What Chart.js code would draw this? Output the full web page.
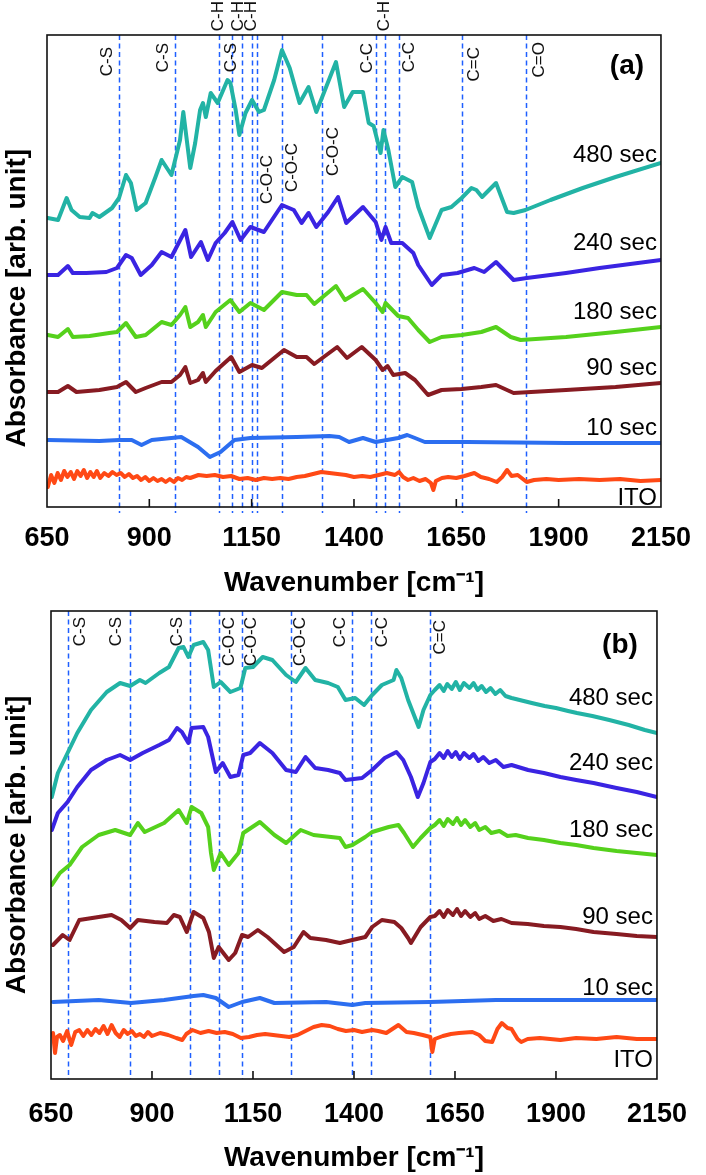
<!DOCTYPE html>
<html lang="en">
<head>
    <meta charset="UTF-8" />
    <title>FT-IR spectra (a) and (b)</title>
    <script src="https://cdn.jsdelivr.net/npm/chart.js"></script>
    <style>
        body { margin: 0; background: #fff; }
        .panel { position: absolute; left: 0; }
    </style>
</head>
<body>
<div class="panel" style="top:0"><canvas id="chartA" width="706" height="600"></canvas></div>
<div class="panel" style="top:598px"><canvas id="chartB" width="706" height="577"></canvas></div>

<script>
    // ---- data: [wavenumber cm-1, absorbance (arb.)] ----
    const seriesNames = ['480 sec', '240 sec', '180 sec', '90 sec', '10 sec', 'ITO'];
    const xTicks = [650, 900, 1150, 1400, 1650, 1900, 2150];

    // panel (a)
    const a480 = [[652,28.9],[677,28.7],[698,30.9],[710,29.7],[730,29.0],[754,28.9],[761,29.4],[778,29.0],[809,29.9],[826,30.9],[843,33.2],[855,32.4],[869,29.7],[891,30.4],[915,33.0],[930,34.7],[954,33.2],[975,36.7],[983,39.5],[1000,33.9],[1012,36.4],[1024,39.7],[1031,40.4],[1038,39.0],[1050,41.4],[1067,40.4],[1091,42.7],[1098,42.4],[1111,39.7],[1120,37.2],[1135,39.4],[1151,40.7],[1168,39.5],[1180,39.7],[1205,42.7],[1224,45.7],[1243,43.9],[1267,40.4],[1289,42.0],[1308,39.5],[1332,42.0],[1356,44.5],[1376,40.0],[1397,41.5],[1422,41.5],[1436,38.4],[1448,38.1],[1465,35.4],[1472,37.7],[1484,35.7],[1501,32.0],[1518,33.0],[1542,32.5],[1557,30.0],[1585,26.9],[1614,29.7],[1638,30.0],[1663,30.9],[1687,31.9],[1699,31.7],[1713,31.0],[1747,32.4],[1774,29.5],[1790,29.4],[1819,29.7],[1880,30.7],[1959,31.9],[2039,33.0],[2150,34.4]];
    const a240 = [[652,23.2],[677,23.2],[701,24.1],[713,23.4],[746,23.4],[795,23.5],[821,23.9],[843,25.2],[857,24.9],[879,23.2],[906,24.2],[930,25.5],[954,25.0],[988,27.7],[1002,25.0],[1026,26.5],[1043,24.7],[1062,26.4],[1084,27.4],[1103,28.5],[1123,26.7],[1147,28.0],[1180,27.5],[1224,30.2],[1253,29.7],[1272,28.4],[1289,29.4],[1308,28.0],[1337,29.5],[1361,31.0],[1381,28.4],[1422,30.0],[1453,28.5],[1467,26.7],[1477,28.0],[1491,26.4],[1518,26.4],[1545,25.4],[1557,24.2],[1590,22.2],[1614,23.2],[1653,23.4],[1694,23.9],[1718,23.5],[1747,24.5],[1790,22.7],[1822,22.9],[1918,23.4],[2000,23.9],[2150,24.7]];
    const a180 = [[652,17.2],[677,17.0],[701,17.8],[713,17.0],[754,17.1],[802,17.4],[821,17.5],[843,18.4],[867,17.0],[891,17.2],[930,18.5],[954,18.2],[975,19.2],[988,20.0],[1000,18.0],[1019,18.5],[1031,19.2],[1038,18.0],[1062,19.5],[1098,20.7],[1120,19.5],[1147,20.4],[1180,19.7],[1224,21.5],[1260,21.2],[1284,21.2],[1303,20.3],[1356,22.1],[1378,20.7],[1422,21.8],[1453,20.4],[1470,19.5],[1477,20.4],[1508,19.1],[1532,18.9],[1557,17.7],[1585,16.5],[1614,17.0],[1663,17.2],[1711,17.5],[1747,18.0],[1783,17.0],[1807,16.7],[1918,17.0],[2039,17.5],[2150,18.0]];
    const a90 = [[652,11.5],[677,11.5],[701,12.1],[722,11.5],[778,11.7],[821,12.0],[843,12.5],[867,11.5],[891,11.9],[930,12.5],[954,12.5],[975,13.2],[988,14.0],[1000,12.4],[1019,12.7],[1031,13.4],[1038,12.5],[1062,13.6],[1100,15.0],[1120,13.5],[1151,14.2],[1175,13.9],[1229,15.7],[1260,15.0],[1284,15.0],[1303,14.3],[1359,16.0],[1383,14.9],[1419,16.0],[1453,14.7],[1470,13.7],[1482,14.1],[1496,13.2],[1525,13.4],[1549,12.7],[1581,11.2],[1614,11.7],[1663,11.8],[1711,12.0],[1747,12.2],[1790,11.4],[1918,11.7],[2039,12.0],[2150,12.4]];
    const a10 = [[652,6.7],[778,6.6],[826,6.7],[857,6.7],[881,6.2],[906,6.7],[978,7.0],[1019,6.0],[1048,5.0],[1074,5.5],[1108,6.7],[1147,6.9],[1260,7.0],[1340,7.1],[1364,7.0],[1388,6.5],[1422,6.9],[1453,6.5],[1508,6.9],[1530,7.2],[1549,6.9],[1573,6.5],[1677,6.5],[1918,6.4],[2150,6.4]];
    const aITO = [[652,2.0],[660,3.2],[668,2.4],[676,3.4],[684,2.7],[692,3.6],[700,3.0],[708,3.5],[716,2.8],[724,3.6],[732,3.1],[740,3.7],[748,2.9],[756,3.5],[764,3.0],[772,3.6],[780,2.9],[790,3.4],[800,3.1],[810,3.5],[820,3.2],[830,3.4],[840,3.0],[850,3.3],[860,2.9],[870,3.1],[880,2.7],[890,3.0],[900,2.6],[910,2.9],[920,2.6],[930,2.8],[940,2.5],[950,2.8],[960,2.5],[970,2.9],[980,2.7],[990,3.0],[1000,2.9],[1020,3.2],[1040,3.1],[1060,3.2],[1080,3.0],[1100,3.1],[1120,2.8],[1140,2.9],[1160,2.7],[1180,2.9],[1200,2.8],[1220,2.9],[1240,2.8],[1260,3.0],[1280,3.1],[1300,3.3],[1320,3.5],[1340,3.4],[1360,3.3],[1380,3.2],[1400,3.0],[1420,3.1],[1440,3.0],[1460,3.2],[1480,3.4],[1500,3.2],[1510,3.5],[1520,3.0],[1532,2.7],[1545,2.9],[1560,2.6],[1575,2.8],[1588,2.4],[1594,1.7],[1600,2.6],[1615,2.9],[1630,3.0],[1650,2.9],[1670,3.1],[1694,3.4],[1710,3.0],[1730,2.8],[1749,2.5],[1762,3.0],[1774,3.7],[1785,3.1],[1800,3.2],[1822,2.5],[1840,2.7],[1870,2.8],[1900,2.7],[1950,2.8],[2000,2.7],[2050,2.8],[2100,2.6],[2150,2.7]];

    // panel (b)
    const b480 = [[652,28.2],[667,30.6],[691,32.6],[715,34.6],[749,36.9],[788,38.7],[821,39.6],[846,39.3],[870,39.9],[884,39.6],[918,40.6],[942,41.2],[966,43.1],[978,43.2],[990,42.2],[1003,43.4],[1027,43.7],[1039,42.9],[1053,39.2],[1070,39.7],[1094,38.7],[1119,39.1],[1131,41.1],[1150,41.2],[1174,42.2],[1198,41.9],[1232,40.4],[1256,39.7],[1280,41.1],[1304,39.9],[1336,39.6],[1360,39.2],[1379,37.9],[1403,38.1],[1425,37.4],[1445,38.4],[1469,39.4],[1498,39.9],[1505,40.9],[1517,40.1],[1534,37.9],[1560,35.2],[1572,36.9],[1589,38.4],[1600,38.9],[1612,39.4],[1622,38.8],[1631,39.5],[1642,39.0],[1652,39.7],[1662,38.9],[1672,39.6],[1686,39.1],[1696,39.6],[1706,38.9],[1716,39.3],[1727,38.7],[1738,39.1],[1750,38.5],[1762,38.9],[1775,38.3],[1790,38.1],[1810,37.9],[1840,37.6],[1872,37.3],[1900,37.1],[1930,36.8],[1952,36.6],[1990,36.3],[2032,35.9],[2080,35.4],[2120,34.9],[2150,34.6]];
    const b240 = [[652,24.9],[667,26.6],[691,27.7],[715,29.2],[749,30.9],[788,31.9],[821,32.4],[846,31.9],[877,32.6],[918,33.4],[942,33.9],[962,35.1],[974,34.7],[990,33.6],[998,35.1],[1027,35.2],[1039,34.2],[1058,30.7],[1075,31.6],[1094,30.2],[1114,30.4],[1126,32.4],[1143,32.6],[1167,33.6],[1198,32.6],[1232,30.9],[1256,30.7],[1280,32.2],[1304,31.1],[1336,30.9],[1365,30.6],[1379,29.9],[1420,30.1],[1445,30.9],[1476,32.1],[1505,32.7],[1522,31.9],[1541,30.2],[1558,28.2],[1572,29.6],[1589,31.7],[1600,32.0],[1612,32.6],[1622,32.1],[1632,32.8],[1642,32.2],[1652,32.7],[1662,32.0],[1672,32.6],[1686,32.1],[1696,32.5],[1708,31.8],[1720,32.2],[1735,31.6],[1751,31.9],[1770,31.2],[1790,31.4],[1831,30.9],[1870,30.6],[1911,30.2],[1950,29.9],[1993,29.6],[2050,29.1],[2100,28.7],[2150,28.2]];
    const b180 = [[652,19.4],[672,20.6],[696,21.4],[727,23.2],[768,24.4],[809,24.9],[846,24.4],[865,25.6],[882,24.7],[930,25.6],[966,26.9],[986,25.6],[998,27.2],[1022,26.6],[1039,25.2],[1046,22.6],[1053,20.9],[1070,22.6],[1090,21.4],[1114,22.6],[1126,24.6],[1167,25.7],[1203,24.4],[1232,23.6],[1268,24.9],[1300,24.4],[1365,24.1],[1379,23.2],[1396,23.4],[1428,24.2],[1445,24.7],[1486,25.2],[1510,25.4],[1524,24.6],[1546,23.2],[1565,24.1],[1589,25.1],[1600,25.4],[1612,25.9],[1622,25.3],[1632,26.0],[1645,25.5],[1655,26.1],[1665,25.4],[1675,25.9],[1688,25.2],[1700,25.6],[1710,24.9],[1725,25.2],[1740,24.6],[1760,24.8],[1780,24.3],[1800,24.4],[1831,24.1],[1870,23.9],[1911,23.6],[1950,23.4],[1993,23.1],[2050,22.8],[2100,22.6],[2150,22.4]];
    const b90 = [[655,13.4],[679,14.4],[696,13.9],[720,15.9],[768,16.2],[800,16.4],[824,15.9],[846,15.1],[865,15.9],[906,15.7],[937,15.6],[954,16.4],[969,16.2],[986,14.7],[1003,16.7],[1027,16.1],[1041,14.7],[1053,12.1],[1065,13.2],[1090,11.9],[1106,12.6],[1123,14.4],[1138,14.2],[1162,14.9],[1186,14.2],[1227,12.7],[1251,13.2],[1275,14.7],[1292,14.1],[1331,13.9],[1365,13.6],[1396,13.9],[1428,14.2],[1445,15.2],[1469,15.9],[1500,15.7],[1517,15.1],[1534,14.1],[1541,13.6],[1565,15.2],[1589,16.2],[1600,16.3],[1612,16.8],[1622,16.2],[1632,16.9],[1645,16.4],[1655,17.0],[1665,16.3],[1675,16.8],[1688,16.2],[1700,16.6],[1710,16.0],[1725,16.3],[1745,15.8],[1765,16.0],[1790,15.6],[1830,15.5],[1870,15.3],[1911,15.2],[1950,15.0],[1993,14.7],[2050,14.5],[2100,14.3],[2150,14.2]];
    const b10 = [[655,7.7],[768,7.9],[848,7.6],[930,7.9],[1003,8.3],[1027,8.4],[1058,8.1],[1090,7.2],[1123,7.7],[1167,8.1],[1203,7.6],[1331,7.7],[1396,7.4],[1428,7.6],[1589,7.7],[1751,7.9],[2150,7.9]];
    const bITO = [[655,4.6],[660,2.6],[665,4.2],[672,4.4],[680,3.8],[690,4.8],[700,3.4],[710,4.7],[720,4.9],[730,4.3],[740,4.9],[750,4.4],[760,5.0],[770,4.6],[780,5.3],[790,4.5],[800,5.4],[810,4.6],[820,4.2],[830,4.9],[840,4.5],[850,4.8],[860,4.3],[870,4.5],[880,4.2],[890,4.7],[900,4.3],[920,4.6],[940,4.4],[960,4.1],[975,3.9],[985,4.5],[1000,4.9],[1020,4.6],[1040,4.8],[1060,4.6],[1080,4.7],[1100,4.5],[1120,4.1],[1140,4.2],[1160,4.4],[1180,4.5],[1200,4.4],[1220,4.3],[1240,4.2],[1260,4.4],[1280,4.8],[1300,5.2],[1320,5.4],[1340,5.3],[1360,5.0],[1380,4.8],[1400,4.9],[1420,4.7],[1445,4.9],[1460,4.8],[1480,4.6],[1510,5.4],[1530,4.7],[1548,4.6],[1570,4.4],[1589,4.2],[1594,2.7],[1600,4.0],[1620,4.3],[1640,4.5],[1660,4.6],[1693,4.7],[1710,4.4],[1725,3.8],[1742,3.7],[1755,5.0],[1766,5.6],[1780,5.1],[1790,5.0],[1805,4.0],[1814,3.7],[1830,4.0],[1860,4.1],[1911,3.9],[1950,4.1],[2000,4.0],[2050,4.2],[2100,4.0],[2150,4.0]];

    // band assignments
    const peaksA = [826, 963, 1069, 1102, 1126, 1150, 1163, 1225, 1323, 1453, 1475, 1510, 1664, 1820];
    const bandsA = ['C-S', 'C-S', 'C-H', 'C-S', 'C-H', 'C-H', 'C-O-C', 'C-O-C', 'C-O-C', 'C-C', 'C-H', 'C-C', 'C=C', 'C=O'];
    const peaksB = [693, 845, 994, 1066, 1124, 1243, 1396, 1443, 1587];
    const bandsB = ['C-S', 'C-S', 'C-S', 'C-O-C', 'C-O-C', 'C-O-C', 'C-C', 'C-C', 'C=C'];

    // ---- look ----
    const FONT = "'Liberation Sans', Arial, Helvetica, sans-serif";
    const colors = ['#22b3a5', '#3a24e2', '#55d11c', '#871b22', '#2c6ef0', '#ff4915'];
    const yTitle = 'Absorbance [arb. unit]';

    Chart.defaults.font.family = FONT;
    Chart.defaults.color = '#000';

    // label placement (px offsets from line / plot top, value level for series names)
    const layoutA = {
        dx: [-12, -12, 0, -1, -4, 0, 10, 10, 11, -8, 0, 10, 12, 13],
        top: [12, 8, -34, 8, -34, -34, 120, 108, 92, 8, -34, 7, 12, 7],
        below: 6, tag: '(a)', tagPos: [34, 31],
        labelAt: [35.2, 26.4, 19.5, 13.9, 7.9, 0.9]
    };
    const layoutB = {
        dx: [12, -13, -13, 10, 9, 10, -12, 11, 11],
        top: [6, 6, 6, 6, 6, 6, 6, 6, 9],
        below: 0, tag: '(b)', tagPos: [37, 34],
        labelAt: [38.1, 31.6, 24.9, 16.2, 9.1, 1.9]
    };

    const decor = {
        id: 'decor',
        beforeDatasetsDraw(chart, args, o) {
            const {ctx, chartArea: ca, scales: {x}} = chart;
            ctx.save();
            ctx.strokeStyle = '#1f5fff';
            ctx.lineWidth = 1.5;
            ctx.setLineDash([5, 3.5]);
            o.peaks.forEach(wn => {
                const px = Math.round(x.getPixelForValue(wn)) + 0.5;
                ctx.beginPath();
                ctx.moveTo(px, ca.top);
                ctx.lineTo(px, ca.bottom + o.below);
                ctx.stroke();
            });
            ctx.restore();
        },
        afterDatasetsDraw(chart, args, o) {
            const {ctx, chartArea: ca, scales: {x, y}} = chart;
            ctx.save();
            // frame + inner ticks
            ctx.strokeStyle = '#111';
            ctx.lineWidth = 1.6;
            ctx.strokeRect(ca.left, ca.top, ca.right - ca.left, ca.bottom - ca.top);
            x.ticks.forEach(t => {
                if (t.value <= x.min || t.value >= x.max) return;
                const px = x.getPixelForValue(t.value);
                ctx.beginPath();
                ctx.moveTo(px, ca.bottom);
                ctx.lineTo(px, ca.bottom - 8);
                ctx.stroke();
            });
            // band labels, rotated
            ctx.fillStyle = '#111';
            ctx.font = '17px ' + FONT;
            ctx.textAlign = 'right';
            ctx.textBaseline = 'middle';
            o.peaks.forEach((wn, i) => {
                ctx.save();
                ctx.translate(x.getPixelForValue(wn) + o.dx[i], ca.top + o.top[i]);
                ctx.rotate(-Math.PI / 2);
                ctx.fillText(o.bands[i], 0, 0);
                ctx.restore();
            });
            // series names
            ctx.fillStyle = '#000';
            ctx.font = '24px ' + FONT;
            chart.data.datasets.forEach((ds, i) => {
                ctx.fillText(ds.label, ca.right - 4, y.getPixelForValue(o.labelAt[i]));
            });
            // panel tag
            ctx.font = 'bold 28px ' + FONT;
            ctx.textAlign = 'center';
            ctx.fillText(o.tag, ca.right - o.tagPos[0], ca.top + o.tagPos[1]);
            ctx.restore();
        }
    };

    function makePanel(id, series, yMax, pad, tickPad, plotW, titleText, peaks, bands, lay) {
        const canvas = document.getElementById(id);
        return new Chart(canvas, {
            type: 'line',
            data: {
                datasets: series.map((s, i) => ({
                    label: seriesNames[i],
                    data: s.map(([wn, v]) => ({x: wn, y: v})),
                    borderColor: colors[i],
                    borderWidth: 4,
                    pointRadius: 0,
                    tension: 0,
                    borderJoinStyle: 'round',
                    borderCapStyle: 'round',
                    fill: false
                }))
            },
            options: {
                responsive: false,
                animation: false,
                events: [],
                layout: {padding: pad},
                scales: {
                    x: {
                        type: 'linear',
                        min: xTicks[0],
                        max: xTicks[xTicks.length - 1],
                        afterBuildTicks: s => { s.ticks = xTicks.map(v => ({value: v})); },
                        afterFit: s => { s.height = canvas.height - pad.top - plotW.h; },
                        grid: {display: false, drawTicks: false},
                        border: {display: false},
                        ticks: {
                            padding: tickPad,
                            autoSkip: false,
                            maxRotation: 0,
                            font: {size: 27, weight: 'bold'},
                            callback: v => String(v)
                        },
                        title: {
                            display: true,
                            text: 'Wavenumber [cm\u207B\u00B9]',
                            font: {size: 28, weight: 'bold'},
                            padding: {top: 0, bottom: 0}
                        }
                    },
                    y: {
                        min: 0,
                        max: yMax,
                        afterFit: s => { s.width = plotW.left; },
                        grid: {display: false},
                        border: {display: false},
                        ticks: {display: false},
                        title: {
                            display: true,
                            text: titleText,
                            font: {size: 28, weight: 'bold'},
                            padding: {top: 0, bottom: 0}
                        }
                    }
                },
                plugins: {
                    legend: {display: false},
                    tooltip: {enabled: false},
                    decor: Object.assign({peaks, bands}, lay)
                }
            },
            plugins: [decor]
        });
    }

    // panel (a) title sits a little below the plot centre in the original
    makePanel('chartA', [a480, a240, a180, a90, a10, aITO], 47.2,
        {left: 0, right: 37, top: 35, bottom: 0}, 15, {left: 47, h: 472},
        yTitle + '       ', peaksA, bandsA, layoutA);

    makePanel('chartB', [b480, b240, b180, b90, b10, bITO], 46.8,
        {left: 0, right: 34, top: 13, bottom: 0}, 19, {left: 51, h: 468},
        yTitle, peaksB, bandsB, layoutB);
</script>
</body>
</html>
